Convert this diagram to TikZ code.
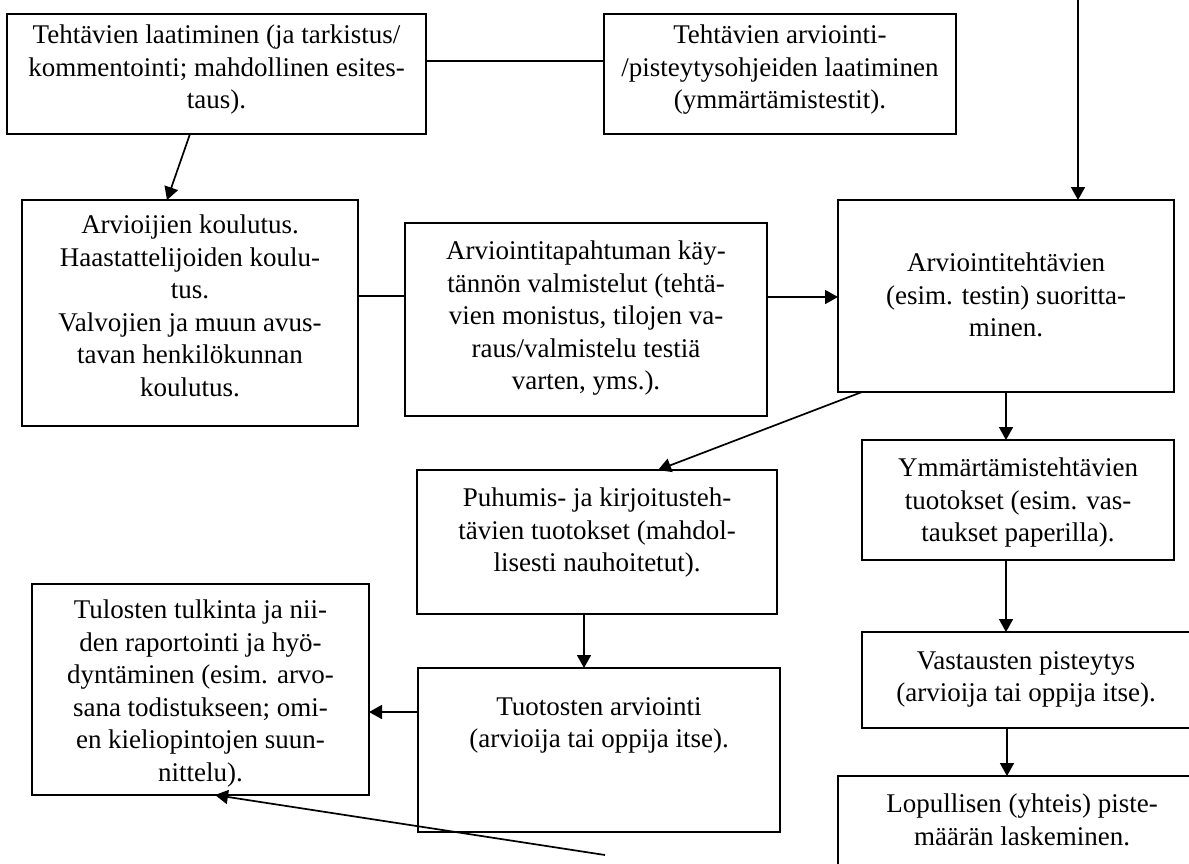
\documentclass[tikz,border=0pt]{standalone}
\usepackage{fontspec}
\setmainfont{Liberation Serif}
\usetikzlibrary{arrows.meta}

% A framed step: name, left, top, right, bottom, text drop, text
\newcommand{\flowbox}[7]{%
  \node[box, minimum width={#4-#2}, minimum height={#5-#3}] (#1) at (#2,#3) {};
  \node[txt] (#1-t) at ([yshift=-#6pt]#1.north) {#7};}

\begin{document}
\begin{tikzpicture}[x=1pt,y=-1pt,
  box/.style={draw, line width=1.7pt, anchor=north west, inner sep=0pt, outer sep=0pt},
  txt/.style={anchor=north, align=center, inner sep=0pt, font=\fontsize{27}{32.5}\selectfont},
  link/.style={line width=1.7pt},
  arr/.style={line width=1.7pt, -{Triangle[length=13pt,width=14pt]}}]
\useasboundingbox (0,0) rectangle (1189,863);
\clip (0,0) rectangle (1189,863);

\flowbox{A}{7}{14}{426}{134}{11}{Tehtävien laatiminen (ja tarkistus/\\kommentointi; mahdollinen esites-\\taus).}
\flowbox{B}{604}{14}{956}{134}{11}{Tehtävien arviointi-\\/pisteytysohjeiden laatiminen\\(ymmärtämistestit).}
\flowbox{C}{22}{200}{358}{426}{15}{\fontsize{27}{31.5}\selectfont Arvioijien koulutus.\\Haastattelijoiden koulu-\\tus.\\Valvojien ja muun avus-\\tavan henkilökunnan\\koulutus.}
\flowbox{D}{405}{223}{767}{416}{18}{Arviointitapahtuman käy-\\tännön valmistelut (tehtä-\\vien monistus, tilojen va-\\raus/valmistelu testiä\\varten, yms.).}
\flowbox{E}{838}{200}{1174}{392}{53}{Arviointitehtävien\\(esim. testin) suoritta-\\minen.}
\flowbox{F}{417}{470}{777}{614}{18}{Puhumis- ja kirjoitusteh-\\tävien tuotokset (mahdol-\\lisesti nauhoitetut).}
\flowbox{G}{862}{440}{1174}{560}{18}{Ymmärtämistehtävien\\tuotokset (esim. vas-\\taukset paperilla).}
\flowbox{H}{862}{632}{1190}{728}{19}{Vastausten pisteytys\\(arvioija tai oppija itse).}
\flowbox{I}{838}{776}{1206}{880}{18}{Lopullisen (yhteis) piste-\\määrän laskeminen.}
\flowbox{J}{418}{668}{780}{832}{29}{Tuotosten arviointi\\(arvioija tai oppija itse).}
\flowbox{K}{32}{584}{369}{795}{16}{Tulosten tulkinta ja nii-\\den raportointi ja hyö-\\dyntäminen (esim. arvo-\\sana todistukseen; omi-\\en kieliopintojen suun-\\nittelu).}

% free ends of the two open connectors
\coordinate (topin) at (1078,0);
\coordinate (tail) at (605,855);

% plain links
\draw[link] ([yshift=-47pt]A.north east) -- ([yshift=-47pt]B.north west);
\draw[link] ([yshift=-96pt]C.north east) -- ([yshift=-73pt]D.north west);

% arrows
\draw[arr] (topin) -- (topin |- E.north);
\draw[arr] ([xshift=183pt]A.south west) -- ([xshift=145pt]C.north west);
\draw[arr] ([yshift=-74pt]D.north east) -- ([yshift=-97pt]E.north west);
\draw[arr] ([xshift=168pt]E.south west) -- ([xshift=144pt]G.north west);
\draw[arr] ([xshift=144pt]G.south west) -- ([xshift=144pt]H.north west);
\draw[arr] ([xshift=145pt]H.south west) -- ([xshift=169pt]I.north west);
\draw[arr] ([xshift=24pt]E.south west) -- ([xshift=241pt]F.north west);
\draw[arr] ([xshift=167pt]F.south west) -- ([xshift=166pt]J.north west);
\draw[arr] ([yshift=-44pt]J.north west) -- ([yshift=-128pt]K.north east);
\draw[arr] (tail) -- ([xshift=183pt]K.south west);
\end{tikzpicture}
\end{document}
